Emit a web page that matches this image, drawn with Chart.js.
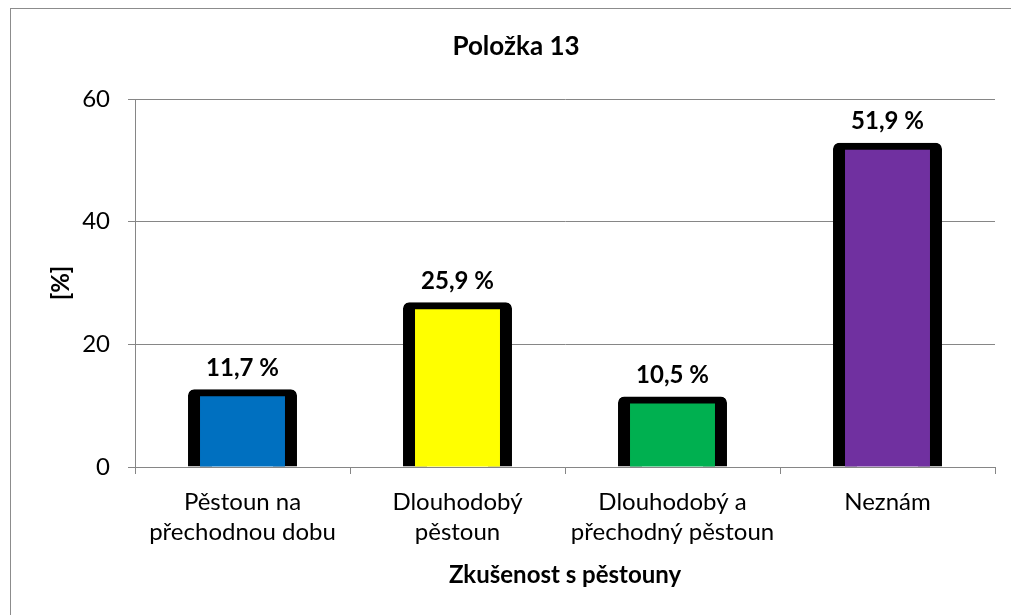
<!DOCTYPE html>
<html>
<head>
<meta charset="utf-8">
<script src="https://cdn.jsdelivr.net/npm/chart.js@4.4.1/dist/chart.umd.min.js"></script>
<style>
  html, body { margin: 0; padding: 0; background: #fff; overflow: hidden; width: 1011px; height: 615px; }
  #frame { position: absolute; left: 10px; top: 8px; width: 1010px; height: 620px; border: 1px solid #8c8c8c; background: #fff; }
  #c { display: block; }
</style>
</head>
<body>
<div id="frame"><canvas id="c" width="1010" height="606"></canvas></div>
<script>
// ---- data ----
const chartTitle = "Položka 13";
const xTitle = "Zkušenost s pěstouny";
const yTitle = "[%]";
const categories = [
  ["Pěstoun na", "přechodnou dobu"],
  ["Dlouhodobý", "pěstoun"],
  ["Dlouhodobý a", "přechodný pěstoun"],
  ["Neznám"]
];
const values = [11.7, 25.9, 10.5, 51.9];
const barColors = ["#0070C0", "#FFFF00", "#00B050", "#7030A0"];
const yMin = 0, yMax = 60, yStep = 20;

const FONT = "Lato, 'DejaVu Sans', sans-serif";
Chart.defaults.font.family = FONT;
Chart.defaults.color = "#000";

function fmt(v) { return v.toFixed(1).replace(".", ",") + " %"; }

const labelPlugin = {
  id: "valueLabels",
  afterDatasetsDraw(chart) {
    const ctx = chart.ctx;
    const meta = chart.getDatasetMeta(0);
    ctx.save();
    ctx.font = "bold 24px " + FONT;
    ctx.fillStyle = "#000";
    ctx.textAlign = "center";
    ctx.textBaseline = "alphabetic";
    meta.data.forEach((el, i) => {
      ctx.fillText(fmt(values[i]), el.x, el.y - 19.5);
    });
    ctx.restore();
  }
};

const GRID = "#868686";

new Chart(document.getElementById("c"), {
  type: "bar",
  data: {
    labels: categories,
    datasets: [{
      data: values,
      backgroundColor: barColors,
      borderColor: "#000",
      borderWidth: { top: 7, left: 12, right: 12, bottom: 0 },
      borderRadius: { topLeft: 6, topRight: 6, bottomLeft: 0, bottomRight: 0 },
      borderSkipped: "start",
      inflateAmount: 6,
      categoryPercentage: 1.0,
      barPercentage: 0.451
    }]
  },
  options: {
    responsive: false,
    animation: false,
    layout: { padding: { top: 0, right: 26, bottom: 0, left: 26 } },
    plugins: {
      legend: { display: false },
      tooltip: { enabled: false },
      title: {
        display: true,
        text: chartTitle,
        font: { size: 26, weight: "bold", family: FONT },
        color: "#000",
        padding: { top: 22.5, bottom: 36.3 }
      }
    },
    scales: {
      x: {
        offset: true,
        grid: { display: true, drawOnChartArea: false, drawTicks: true, tickLength: 7, color: GRID, offset: true },
        border: { display: true, color: GRID, width: 1 },
        ticks: {
          color: "#000",
          font: { size: 24, family: FONT, lineHeight: "30px" },
          padding: 13,
          maxRotation: 0,
          autoSkip: false
        },
        title: {
          display: true,
          text: xTitle,
          color: "#000",
          font: { size: 24, weight: "bold", family: FONT },
          padding: { top: 0, bottom: 25.6 }
        },
        afterFit(scale) { scale.height = 148; }
      },
      y: {
        min: yMin,
        max: yMax,
        grid: { color: GRID, tickLength: 7, drawTicks: true },
        border: { display: true, color: GRID, width: 1 },
        ticks: {
          stepSize: yStep,
          color: "#000",
          font: { size: 24, family: FONT },
          padding: 18
        },
        title: {
          display: true,
          text: yTitle,
          color: "#000",
          font: { size: 24, weight: "bold", family: FONT },
          padding: { top: 9.6, bottom: 0 }
        },
        afterFit(scale) { scale.width = 98; }
      }
    }
  },
  plugins: [labelPlugin]
});
</script>
</body>
</html>
